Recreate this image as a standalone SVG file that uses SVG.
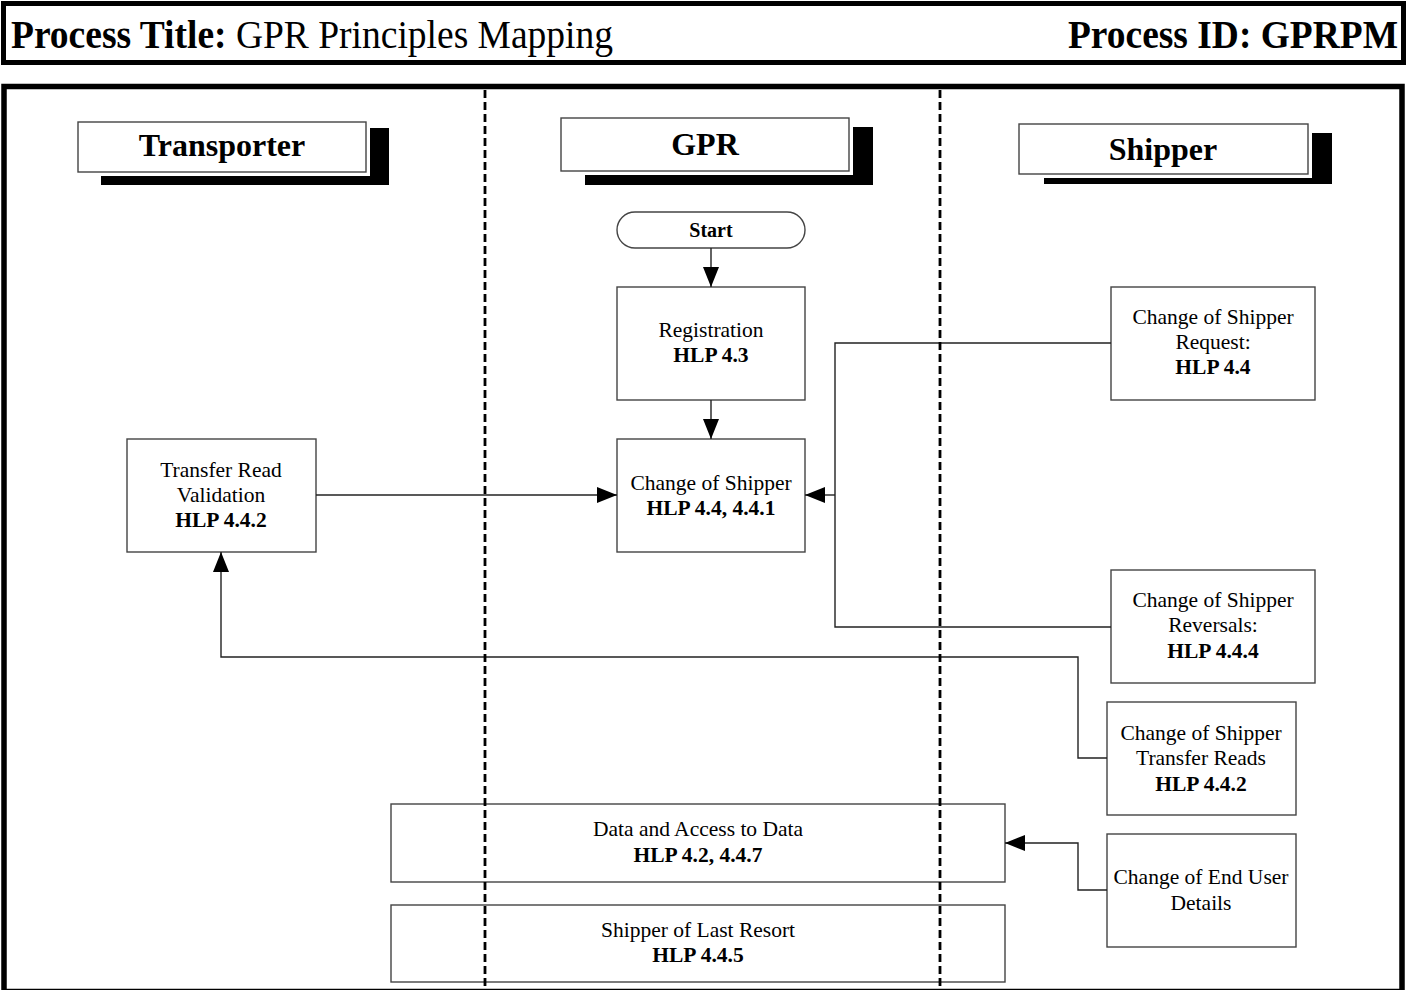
<svg xmlns="http://www.w3.org/2000/svg" width="1409" height="990" viewBox="0 0 1409 990">
<defs>
<style>
text{font-family:"Liberation Serif","Times New Roman",serif;fill:#000}
.box{fill:#fff;stroke:#444;stroke-width:1.4}
.t{font-size:21.5px;text-anchor:middle}
.b{font-weight:bold}
.lane{font-size:32px;font-weight:bold;text-anchor:middle}
.conn{fill:none;stroke:#222;stroke-width:1.4}
.sep{stroke:#000;stroke-width:2.8;stroke-dasharray:8,4;fill:none}
.sh{fill:#000}
.pad{fill:#fff}
</style>
<marker id="arr" viewBox="0 0 20 16" refX="20" refY="8" markerWidth="20" markerHeight="16" markerUnits="userSpaceOnUse" orient="auto">
<path d="M0,0 L20,8 L0,16 Z" fill="#000"/>
</marker>
</defs>
<rect width="1409" height="990" fill="#fff"/>
<g id="header">
<rect x="3.5" y="3.5" width="1400" height="59" fill="#fff" stroke="#000" stroke-width="5"/>
<text x="11" y="48" font-size="39" textLength="602" lengthAdjust="spacingAndGlyphs"><tspan font-weight="bold">Process Title:</tspan> GPR Principles Mapping</text>
<text x="1068" y="48" font-size="39" font-weight="bold" textLength="330" lengthAdjust="spacingAndGlyphs">Process ID: GPRPM</text>
</g>
<g id="frame">
<rect x="4" y="86.5" width="1398" height="905" fill="none" stroke="#000" stroke-width="5.5"/>
</g>
<g id="lane-transporter">
<rect class="sh" x="101" y="128" width="288" height="57"/>
<rect class="pad" x="78" y="122" width="292" height="54"/>
<rect class="box" x="78" y="122" width="288" height="50"/>
<text class="lane" x="222" y="156">Transporter</text>
</g>
<g id="lane-gpr">
<rect class="sh" x="585" y="127" width="288" height="58"/>
<rect class="pad" x="561" y="118" width="292" height="57"/>
<rect class="box" x="561" y="118" width="288" height="53"/>
<text class="lane" x="705" y="155">GPR</text>
</g>
<g id="lane-shipper">
<rect class="sh" x="1044" y="133" width="288" height="51"/>
<rect class="pad" x="1019" y="124" width="293" height="54"/>
<rect class="box" x="1019" y="124" width="289" height="50"/>
<text class="lane" x="1163" y="160">Shipper</text>
</g>
<g id="start">
<rect class="box" x="617" y="212" width="188" height="36" rx="18" ry="18"/>
<text class="t b" x="711" y="237" style="font-size:20px">Start</text>
</g>
<g id="registration">
<rect class="box" x="617" y="287" width="188" height="113"/>
<text class="t" x="711" y="337">Registration</text>
<text class="t b" x="711" y="362">HLP 4.3</text>
</g>
<g id="change-of-shipper">
<rect class="box" x="617" y="439" width="188" height="113"/>
<text class="t" x="711" y="490">Change of Shipper</text>
<text class="t b" x="711" y="515">HLP 4.4, 4.4.1</text>
</g>
<g id="transfer-read-validation">
<rect class="box" x="127" y="439" width="189" height="113"/>
<text class="t" x="221" y="477">Transfer Read</text>
<text class="t" x="221" y="502">Validation</text>
<text class="t b" x="221" y="527">HLP 4.4.2</text>
</g>
<g id="cos-request">
<rect class="box" x="1111" y="287" width="204" height="113"/>
<text class="t" x="1213" y="324">Change of Shipper</text>
<text class="t" x="1213" y="349">Request:</text>
<text class="t b" x="1213" y="374">HLP 4.4</text>
</g>
<g id="cos-reversals">
<rect class="box" x="1111" y="570" width="204" height="113"/>
<text class="t" x="1213" y="607">Change of Shipper</text>
<text class="t" x="1213" y="632">Reversals:</text>
<text class="t b" x="1213" y="658">HLP 4.4.4</text>
</g>
<g id="cos-transfer-reads">
<rect class="box" x="1107" y="702" width="189" height="113"/>
<text class="t" x="1201" y="740">Change of Shipper</text>
<text class="t" x="1201" y="765">Transfer Reads</text>
<text class="t b" x="1201" y="791">HLP 4.4.2</text>
</g>
<g id="change-end-user">
<rect class="box" x="1107" y="834" width="189" height="113"/>
<text class="t" x="1201" y="884">Change of End User</text>
<text class="t" x="1201" y="910">Details</text>
</g>
<g id="data-access">
<rect class="box" x="391" y="804" width="614" height="78"/>
<text class="t" x="698" y="836">Data and Access to Data</text>
<text class="t b" x="698" y="862">HLP 4.2, 4.4.7</text>
</g>
<g id="last-resort">
<rect class="box" x="391" y="905" width="614" height="77"/>
<text class="t" x="698" y="937">Shipper of Last Resort</text>
<text class="t b" x="698" y="962">HLP 4.4.5</text>
</g>
<g id="connectors">
<line class="conn" x1="711" y1="248" x2="711" y2="287" marker-end="url(#arr)"/>
<line class="conn" x1="711" y1="400" x2="711" y2="439" marker-end="url(#arr)"/>
<line class="conn" x1="316" y1="495" x2="617" y2="495" marker-end="url(#arr)"/>
<polyline class="conn" points="1111,343 835,343 835,627 1111,627"/>
<line class="conn" x1="835" y1="495" x2="805" y2="495" marker-end="url(#arr)"/>
<polyline class="conn" points="1107,758 1078,758 1078,657 221,657 221,552" marker-end="url(#arr)"/>
<polyline class="conn" points="1107,890 1078,890 1078,843 1005,843" marker-end="url(#arr)"/>
</g>
<g id="separators">
<line class="sep" x1="485" y1="90" x2="485" y2="990"/>
<line class="sep" x1="940" y1="90" x2="940" y2="990"/>
</g>
</svg>
